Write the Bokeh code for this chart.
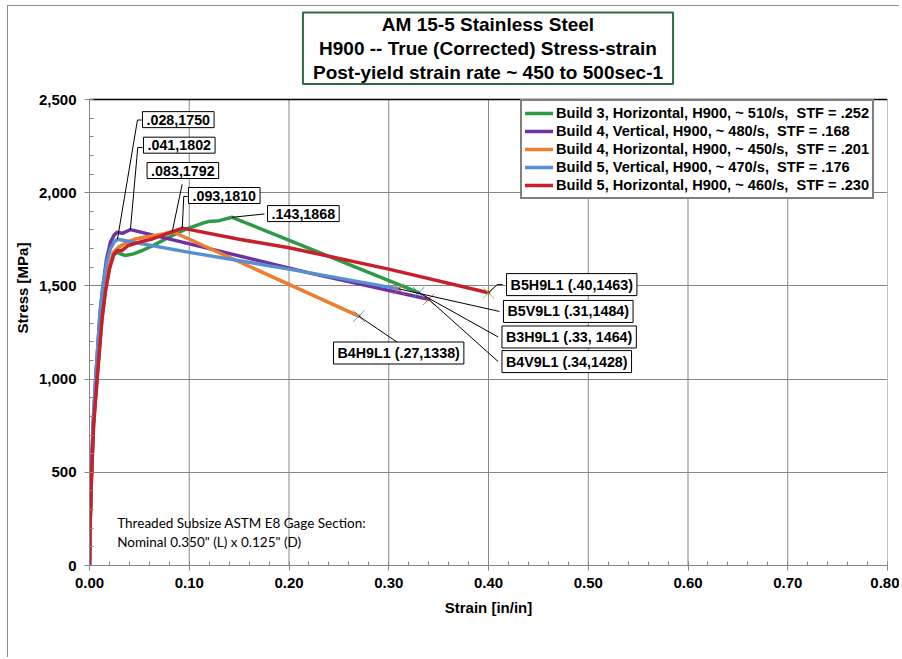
from bokeh.plotting import figure
from bokeh.models import (Label, Legend, LegendItem, Span, NumeralTickFormatter,
                          SingleIntervalTicker)
from bokeh.embed import file_html
from bokeh.resources import INLINE

# ---------------- data ----------------
b3h_strain = [0, 0.0005, 0.002, 0.004, 0.0075, 0.0125, 0.016, 0.020, 0.024, 0.027, 0.031,
              0.036, 0.044, 0.053, 0.065, 0.0795, 0.096, 0.113, 0.119, 0.130, 0.143, 0.33]
b3h_stress = [0, 200, 480, 760, 1000, 1330, 1480, 1600, 1665, 1682, 1672,
              1663, 1672, 1690, 1720, 1761, 1803, 1836, 1845, 1850, 1868, 1464]

b4v_strain = [0, 0.0005, 0.002, 0.004, 0.0065, 0.0105, 0.0135, 0.017, 0.021, 0.025, 0.028,
              0.033, 0.037, 0.041, 0.12, 0.22, 0.34]
b4v_stress = [0, 220, 520, 800, 1030, 1350, 1500, 1640, 1735, 1775, 1788,
              1782, 1792, 1802, 1700, 1570, 1428]

b4h_strain = [0, 0.0005, 0.002, 0.004, 0.0075, 0.0125, 0.016, 0.020, 0.024, 0.029, 0.037,
              0.046, 0.056, 0.066, 0.075, 0.083, 0.27]
b4h_stress = [0, 200, 490, 770, 1010, 1340, 1490, 1610, 1681, 1708, 1732,
              1752, 1762, 1770, 1780, 1792, 1338]

b5v_strain = [0, 0.0005, 0.002, 0.004, 0.0065, 0.0105, 0.0135, 0.017, 0.021, 0.025, 0.028,
              0.10, 0.20, 0.31]
b5v_stress = [0, 220, 520, 800, 1030, 1350, 1500, 1620, 1700, 1738, 1750,
              1680, 1590, 1484]

b5h_strain = [0, 0.0005, 0.002, 0.004, 0.0075, 0.0125, 0.016, 0.020, 0.024, 0.028, 0.032,
              0.039, 0.050, 0.063, 0.078, 0.091, 0.093, 0.15, 0.20, 0.30, 0.40]
b5h_stress = [0, 190, 470, 740, 990, 1320, 1470, 1590, 1665, 1690, 1688,
              1717, 1735, 1752, 1780, 1806, 1810, 1750, 1705, 1590, 1463]

series_names = [
    "Build 3, Horizontal, H900, ~ 510/s,  STF = .252",
    "Build 4, Vertical, H900, ~ 480/s,  STF = .168",
    "Build 4, Horizontal, H900, ~ 450/s,  STF = .201",
    "Build 5, Vertical, H900, ~ 470/s,  STF = .176",
    "Build 5, Horizontal, H900, ~ 460/s,  STF = .230",
]

peak_strain = [0.028, 0.041, 0.083, 0.093, 0.143]
peak_stress = [1750, 1802, 1792, 1810, 1868]
peak_text = [".028,1750", ".041,1802", ".083,1792", ".093,1810", ".143,1868"]

end_strain = [0.40, 0.31, 0.33, 0.34, 0.27]
end_stress = [1463, 1484, 1464, 1428, 1338]
end_text = ["B5H9L1 (.40,1463)", "B5V9L1 (.31,1484)", "B3H9L1 (.33, 1464)",
            "B4V9L1 (.34,1428)", "B4H9L1 (.27,1338)"]

x_ticks = [0.0, 0.1, 0.2, 0.3, 0.4, 0.5, 0.6, 0.7, 0.8]
y_ticks = [0, 500, 1000, 1500, 2000, 2500]

title_text = "AM 15-5 Stainless Steel\nH900 -- True (Corrected) Stress-strain\nPost-yield strain rate ~ 450 to 500sec-1"
note_lines = ["Threaded Subsize ASTM E8 Gage Section:", "Nominal 0.350\" (L) x 0.125\"  (D)"]

# ---------------- styling ----------------
FONT = "Liberation Sans"
colors = ["#2f9a45", "#7030a0", "#ed7d31", "#5590d2", "#c8202b"]
marker_colors = ["#9bbb59", "#e0604a", "#5590d2", "#ed7d31", "#5590d2"]
GRID = "#868686"
Y_TOP = 2977.5   # extra room above the plot area for the title box

p = figure(frame_width=798, frame_height=555,
           x_range=(x_ticks[0], x_ticks[-1]), y_range=(y_ticks[0], Y_TOP),
           output_backend="svg", toolbar_location=None,
           min_border_left=81, min_border_right=12, min_border_top=4, min_border_bottom=92)
p.styles = {"border-left": "1px solid #8c8c8c", "border-top": "1px solid #8c8c8c",
            "margin-left": "7px", "margin-top": "5px"}
p.outline_line_color = None
p.background_fill_color = "white"

p.xaxis.ticker = SingleIntervalTicker(interval=0.1, num_minor_ticks=5)
p.yaxis.ticker = SingleIntervalTicker(interval=500, num_minor_ticks=5)
p.xaxis.formatter = NumeralTickFormatter(format="0.00")
p.yaxis.formatter = NumeralTickFormatter(format="0,0")
p.yaxis.bounds = (y_ticks[0], y_ticks[-1])

for ax in (p.xaxis, p.yaxis):
    ax.axis_line_color = GRID
    ax.major_tick_line_color = GRID
    ax.minor_tick_line_color = GRID
    ax.major_tick_in = 0
    ax.major_tick_out = 5
    ax.minor_tick_in = 4
    ax.minor_tick_out = 0
    ax.major_label_text_font = FONT
    ax.major_label_text_font_style = "bold"
    ax.major_label_text_font_size = "15px"
    ax.major_label_text_color = "black"
    ax.axis_label_text_font = FONT
    ax.axis_label_text_font_style = "bold"
    ax.axis_label_text_font_size = "15px"
    ax.axis_label_text_color = "black"

p.xaxis.axis_label = "Strain [in/in]"
p.yaxis.axis_label = "Stress [MPa]"
p.xaxis.major_label_standoff = 7
p.yaxis.major_label_standoff = 8
p.xaxis.axis_label_standoff = 8
p.yaxis.axis_label_standoff = 5

p.xgrid.grid_line_color = None
p.ygrid.grid_line_color = GRID
p.ygrid.grid_line_width = 1
# vertical grid lines limited to the plot area (0 .. 2500)
p.segment(x0=x_ticks, y0=[y_ticks[0]] * len(x_ticks), x1=x_ticks, y1=[y_ticks[-1]] * len(x_ticks),
          line_color=GRID, line_width=1)
p.segment(x0=[x_ticks[0]], y0=[y_ticks[-1]], x1=[x_ticks[-1]], y1=[y_ticks[-1]],
          line_color="black", line_width=1.5)

# ---------------- curves ----------------
curves = [(b3h_strain, b3h_stress), (b4v_strain, b4v_stress), (b4h_strain, b4h_stress),
          (b5v_strain, b5v_stress), (b5h_strain, b5h_stress)]
renderers = []
for (xs, ys), c in zip(curves, colors):
    r = p.line(xs, ys, line_color=c, line_width=3.5, line_join="round", line_cap="round")
    renderers.append(r)

p.scatter(end_strain, end_stress, marker="x", size=16, line_width=1,
          line_color=marker_colors)

legend = Legend(items=[LegendItem(label=n, renderers=[r]) for n, r in zip(series_names, renderers)],
                location=(431, 366), orientation="vertical")
legend.label_text_font = FONT
legend.label_text_font_style = "bold"
legend.label_text_font_size = "14.6px"
legend.label_text_color = "black"
legend.border_line_color = "black"
legend.border_line_width = 2
legend.padding = 3
legend.spacing = 0
legend.margin = 0
legend.label_height = 18
legend.glyph_height = 18
legend.glyph_width = 28
legend.label_standoff = 3
legend.background_fill_alpha = 1
p.add_layout(legend)

# ---------------- callouts ----------------
# label anchor (left edge of text, vertical middle) in data coordinates
peak_lbl_x = [0.0531, 0.0541, 0.0577, 0.0992, 0.1785]
peak_lbl_y = [2392, 2255, 2119, 1985, 1888]
peak_lead_xs = [[0.0521, 0.0481], [0.0531, 0.0484], [0.0929], [0.0985, 0.0945], [0.1754]]
peak_lead_ys = [[2390, 2390], [2243, 2243], [2045], [1980, 1980], [1886]]

end_lbl_x = [0.4181, 0.4150, 0.4135, 0.4135, 0.2446]
end_lbl_y = [1507, 1363, 1226, 1094, 1140]
end_lead_xs = [[0.4143, 0.4087], [0.4110], [0.4097], [0.4097], [0.3085]]
end_lead_ys = [[1507, 1507], [1363], [1226], [1094], [1198]]

lx, ly = [], []
for px_, py_, sx, sy in zip(peak_lead_xs, peak_lead_ys, peak_strain, peak_stress):
    lx.append(list(px_) + [sx]); ly.append(list(py_) + [sy])
for px_, py_, sx, sy in zip(end_lead_xs, end_lead_ys, end_strain, end_stress):
    lx.append(list(px_) + [sx]); ly.append(list(py_) + [sy])
p.multi_line(lx, ly, line_color="black", line_width=1)

for t, x, y in list(zip(peak_text, peak_lbl_x, peak_lbl_y)) + list(zip(end_text, end_lbl_x, end_lbl_y)):
    p.add_layout(Label(x=x, y=y, text=t, text_align="left", text_baseline="middle",
                       text_font=FONT, text_font_style="bold", text_font_size="14.3px",
                       text_color="black", background_fill_color="white",
                       border_line_color="black", border_line_width=1,
                       padding=dict(x=4, y=3)))

# ---------------- title box ----------------
p.add_layout(Label(x=0.3995, y=2775, text=title_text, text_align="center", text_baseline="middle",
                   text_font=FONT, text_font_style="bold", text_font_size="19px",
                   text_color="black", text_line_height=1.15, background_fill_color="white",
                   border_line_color="#2b6e3c", border_line_width=2,
                   padding=dict(x=10, y=1)))

# ---------------- note ----------------
for t, y in zip(note_lines, [227, 125]):
    p.add_layout(Label(x=0.0278, y=y, text=t, text_align="left", text_baseline="middle",
                       text_font="Lato", text_font_size="13.5px", text_color="black"))

open("out.html", "w").write(file_html(p, INLINE))
